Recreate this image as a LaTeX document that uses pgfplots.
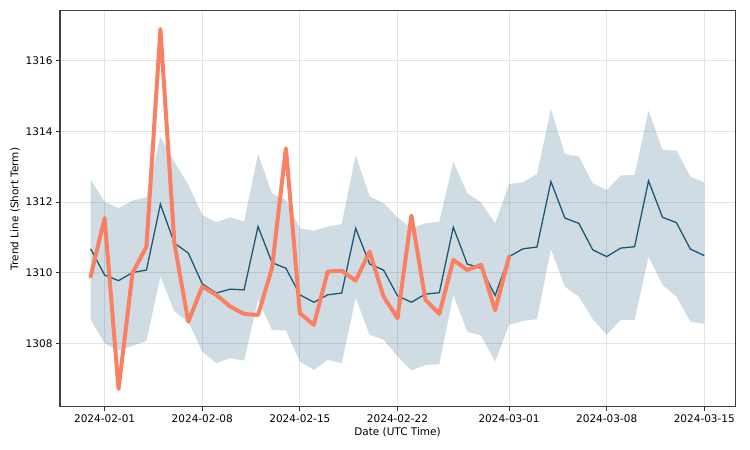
\documentclass[border=0pt]{standalone}
\usepackage{fontspec}
\setmainfont{DejaVu Sans}
\usepackage{pgfplots}
\usepackage{pgfplotstable}
\pgfplotsset{compat=1.18}
\usepgfplotslibrary{fillbetween}
\definecolor{trendc}{RGB}{28,88,116}
\definecolor{bandc}{RGB}{20,80,120}
\definecolor{salmonc}{RGB}{250,128,100}
\definecolor{gridc}{RGB}{228,228,228}
\pgfplotstableread{
d trend upper lower
-1 1310.68 1312.63 1308.67
0 1309.94 1312.01 1308.01
1 1309.78 1311.83 1307.81
2 1310.01 1312.04 1307.94
3 1310.08 1312.14 1308.08
4 1311.94 1313.85 1309.90
5 1310.84 1313.14 1308.91
6 1310.56 1312.49 1308.62
7 1309.69 1311.64 1307.78
8 1309.43 1311.43 1307.45
9 1309.54 1311.57 1307.59
10 1309.52 1311.45 1307.52
11 1311.31 1313.36 1309.24
12 1310.29 1312.25 1308.39
13 1310.13 1312.06 1308.37
14 1309.38 1311.26 1307.49
15 1309.17 1311.19 1307.26
16 1309.38 1311.31 1307.54
17 1309.43 1311.38 1307.45
18 1311.26 1313.33 1309.29
19 1310.25 1312.16 1308.25
20 1310.08 1311.97 1308.11
21 1309.35 1311.57 1307.64
22 1309.17 1311.26 1307.24
23 1309.40 1311.40 1307.40
24 1309.44 1311.45 1307.42
25 1311.29 1313.14 1309.38
26 1310.25 1312.25 1308.34
27 1310.13 1311.99 1308.22
28 1309.36 1311.40 1307.49
29 1310.46 1312.51 1308.53
30 1310.68 1312.56 1308.64
31 1310.73 1312.79 1308.69
32 1312.58 1314.63 1310.67
33 1311.55 1313.36 1309.61
34 1311.40 1313.29 1309.33
35 1310.65 1312.53 1308.69
36 1310.46 1312.34 1308.25
37 1310.70 1312.75 1308.67
38 1310.74 1312.77 1308.67
39 1312.60 1314.59 1310.46
40 1311.57 1313.47 1309.66
41 1311.42 1313.46 1309.33
42 1310.67 1312.72 1308.62
43 1310.49 1312.55 1308.56
}\bandtable
\pgfplotstableread{
d val
-1 1309.90
0 1311.55
1 1306.72
2 1310.00
3 1310.74
4 1316.89
5 1310.84
6 1308.62
7 1309.61
8 1309.38
9 1309.05
10 1308.84
11 1308.81
12 1310.13
13 1313.52
14 1308.86
15 1308.53
16 1310.04
17 1310.06
18 1309.78
19 1310.60
20 1309.33
21 1308.72
22 1311.62
23 1309.24
24 1308.84
25 1310.37
26 1310.08
27 1310.23
28 1308.94
29 1310.46
}\saltable
\begin{document}
\begin{tikzpicture}
\begin{axis}[
  at={(0,0)}, anchor=south west,
  scale only axis,
  width=675pt, height=396pt,
  xmin=-3.2, xmax=45.2,
  ymin=1306.21, ymax=1317.40,
  xtick={0,7,14,21,29,36,43},
  xticklabels={2024-02-01,2024-02-08,2024-02-15,2024-02-22,2024-03-01,2024-03-08,2024-03-15},
  ytick={1308,1310,1312,1314,1316},
  /pgf/number format/assume math mode=true,
  /pgf/number format/1000 sep={},
  tick label style={font=\fontsize{10.5}{12.5}\selectfont},
  label style={font=\fontsize{10.5}{12.5}\selectfont},
  xlabel={Date (UTC Time)},
  ylabel={Trend Line (Short Term)},
  xlabel style={yshift=2pt},
  ylabel style={yshift=-1pt},
  tick align=outside,
  major tick length=4pt,
  tick style={black!80, line width=0.8pt},
  xtick pos=bottom, ytick pos=left,
  grid=major,
  major grid style={gridc, line width=0.8pt},
  axis line style={black!75, line width=1pt},
  clip=true,
]
\addplot[name path=up, draw=none, forget plot] table[x=d, y=upper] {\bandtable};
\addplot[name path=lo, draw=none, forget plot] table[x=d, y=lower] {\bandtable};
\addplot[fill=bandc, fill opacity=0.2, draw=none] fill between[of=up and lo];
\addplot[trendc, line width=1.3pt] table[x=d, y=trend] {\bandtable};
\addplot[salmonc, line width=4pt, line join=round, line cap=round] table[x=d, y=val] {\saltable};
\end{axis}
\path[use as bounding box] (-60pt,-43pt) rectangle (690pt,407pt);
\end{tikzpicture}
\end{document}
